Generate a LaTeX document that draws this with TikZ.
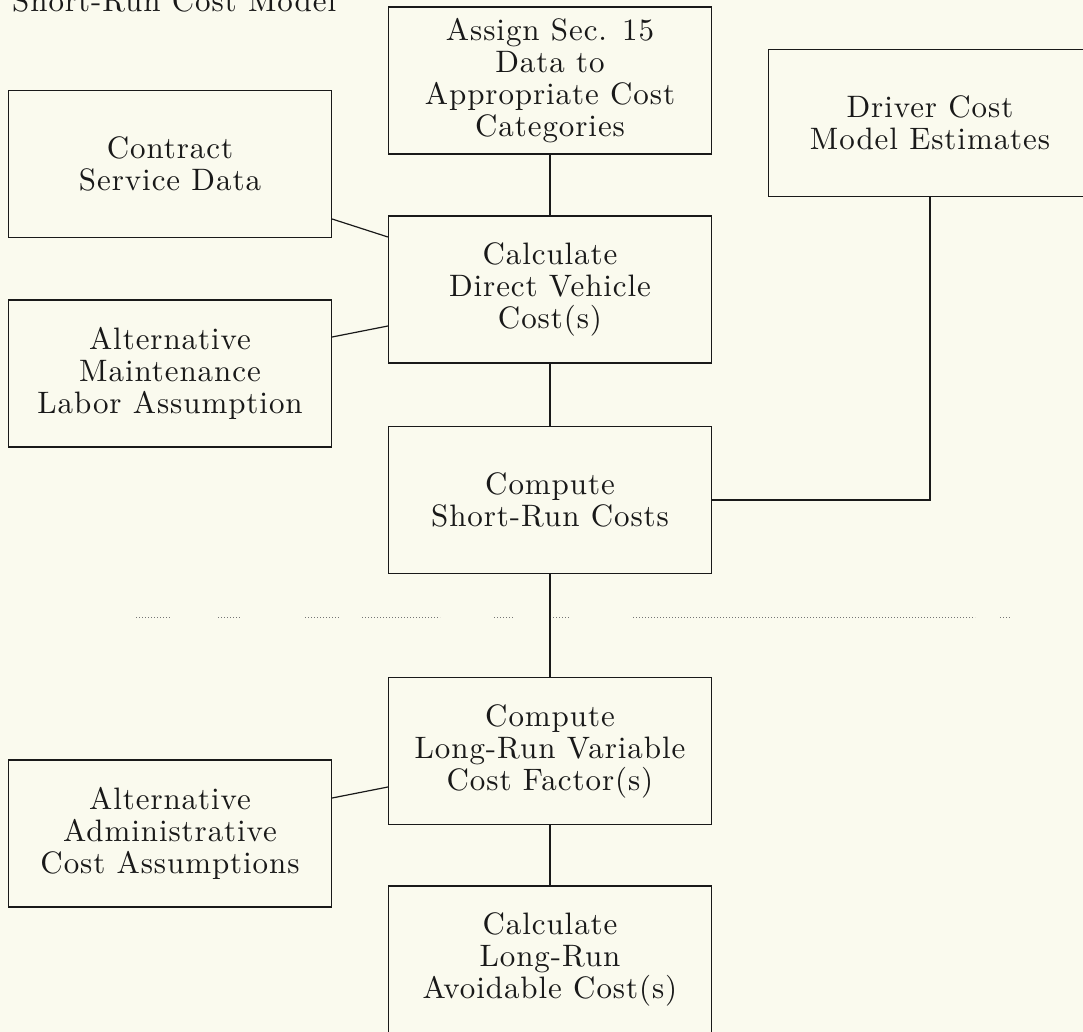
\documentclass[tikz,border=0pt]{standalone}
\usepackage{fontspec}
\setmainfont{lmroman10-regular.otf}[LetterSpace=3]
\usetikzlibrary{positioning}
\definecolor{paper}{RGB}{250,250,238}
\definecolor{ink}{RGB}{25,25,25}
\newcommand{\boxfont}{\fontsize{31}{32}\selectfont}
\begin{document}
\begin{tikzpicture}[x=1pt,y=-1pt,
  flowbox/.style={draw=ink, line width=1.2pt, minimum width=323pt, minimum height=147pt,
    align=center, inner sep=0pt, font=\boxfont, text=ink},
  link/.style={draw=ink, line width=1.2pt},
  sep/.style={draw=ink!60, line width=1pt, dotted}]
\useasboundingbox (0,0) rectangle (1083,1032);
\clip (0,0) rectangle (1083,1032);
\fill[paper] (0,0) rectangle (1083,1032);
\node[anchor=base west, font=\boxfont, text=ink, inner sep=0pt] (title) at (12,12) {Short-Run Cost Model};
\node[flowbox] (assign) at (550,80.5) {Assign Sec. 15\\Data to\\Appropriate Cost\\Categories};
\node[flowbox] (driver) at (930,123) {Driver Cost\\Model Estimates};
\node[flowbox] (contract) at (170,164) {Contract\\Service Data};
\node[flowbox] (direct) at (550,289.5) {Calculate\\Direct Vehicle\\Cost(s)};
\node[flowbox] (maint) at (170,373.5) {Alternative\\Maintenance\\Labor Assumption};
\node[flowbox] (short) at (550,500) {Compute\\Short-Run Costs};
\node[flowbox] (factor) at (550,751) {Compute\\Long-Run Variable\\Cost Factor(s)};
\node[flowbox] (admin) at (170,833.5) {Alternative\\Administrative\\Cost Assumptions};
\node[flowbox] (avoid) at (550,959.5) {Calculate\\Long-Run\\Avoidable Cost(s)};
% connectors
\draw[link] (assign) -- (direct);
\draw[link] ([yshift=-55pt]contract.east) -- ([yshift=52.5pt]direct.west);
\draw[link] ([yshift=36.5pt]maint.east) -- ([yshift=-36.5pt]direct.west);
\draw[link] (direct) -- (short);
\draw[link] (driver.south) |- (short.east);
\draw[link] (short) -- (factor);
\draw[link] ([yshift=35.5pt]admin.east) -- ([yshift=-36pt]factor.west);
\draw[link] (factor) -- (avoid);
% dotted separator
\foreach \a/\b in {136/170, 218/240, 305/340, 362/440, 494/515, 553/570, 633/975, 1000/1012}
  \draw[sep] (\a,617) -- (\b,617);
\end{tikzpicture}
\end{document}
